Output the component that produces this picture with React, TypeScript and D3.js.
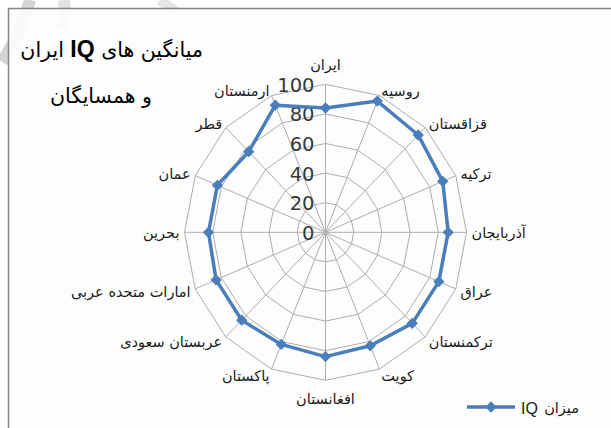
import React from "react";
import * as d3 from "d3";

const categories = [
  "ایران",
  "روسیه",
  "قزاقستان",
  "ترکیه",
  "آذربایجان",
  "عراق",
  "ترکمنستان",
  "کویت",
  "افغانستان",
  "پاکستان",
  "عربستان سعودی",
  "امارات متحده عربی",
  "بحرین",
  "عمان",
  "قطر",
  "ارمنستان",
];
const iqValues = [84, 96, 93, 90, 87, 87, 87, 83, 84, 82, 84, 84, 83, 83, 77, 93];
const tickValues = [0, 20, 40, 60, 80, 100];
const seriesWord = "میزان";
const seriesAbbr = "IQ";
const titleLine1 = ["میانگین های ", "IQ", " ایران"];
const titleLine2 = "و همسایگان";

const W = 611;
const H = 428;
const cx = 325.5;
const cy = 232.3;
const BLUE = "#4a7ebb";
const GRID = "#adadad";
const FA = "'DejaVu Sans', sans-serif";

export default function App() {
  const rx = d3.scaleLinear().domain([0, 100]).range([0, 141]);
  const ry = d3.scaleLinear().domain([0, 100]).range([0, 148]);
  const angle = d3
    .scaleLinear()
    .domain([0, categories.length])
    .range([0, 2 * Math.PI]);

  const px = (i: number, v: number) => cx + rx(v) * Math.sin(angle(i));
  const py = (i: number, v: number) => cy - ry(v) * Math.cos(angle(i));

  const ringPath = (v: number) =>
    d3
      .line<number>()
      .x((_, i) => px(i, v))
      .y((_, i) => py(i, v))
      .curve(d3.curveLinearClosed)(categories.map(() => v)) as string;

  const seriesPath = d3
    .line<number>()
    .x((d, i) => px(i, d))
    .y((d, i) => py(i, d))
    .curve(d3.curveLinearClosed)(iqValues) as string;

  const diamond = d3.symbol(d3.symbolSquare, 64)() as string;

  return (
    <svg
      width={W}
      height={H}
      style={{ position: "absolute", left: 0, top: 0, background: "#ffffff" }}
    >
      {/* faint watermark strokes */}
      <g fill="none" stroke="#d4d4d4" strokeLinecap="butt">
        <path d="M30,0 Q22,30 2,62" strokeWidth={12} />
        <path d="M64,0 Q66,14 62,28" strokeWidth={12} opacity={0.7} />
        <path d="M160,0 L176,12" strokeWidth={10} opacity={0.6} />
      </g>
      <rect
        x={8.5}
        y={8.5}
        width={W}
        height={H}
        fill="#fdfdfd"
        fillOpacity={0.9}
        stroke="#858585"
        strokeWidth={1.5}
      />

      {/* title */}
      <text
        x={203}
        y={57}
        direction="rtl"
        textAnchor="start"
        fontFamily={FA}
        fontSize={20.5}
        fill="#000"
      >
        <tspan>{titleLine1[0]}</tspan>
        <tspan fontWeight="bold" fontFamily="'Liberation Sans', Arial, sans-serif" fontSize={23}>
          {titleLine1[1]}
        </tspan>
        <tspan>{titleLine1[2]}</tspan>
      </text>
      <text
        x={152}
        y={103}
        direction="rtl"
        textAnchor="start"
        fontFamily={FA}
        fontSize={20.5}
        fill="#000"
      >
        {titleLine2}
      </text>

      {/* grid rings */}
      <g fill="none" stroke={GRID} strokeWidth={1}>
        {tickValues
          .filter((t) => t > 0)
          .map((t) => (
            <path key={t} d={ringPath(t)} />
          ))}
        {categories.map((c, i) => (
          <line key={c} x1={cx} y1={cy} x2={px(i, 100)} y2={py(i, 100)} />
        ))}
      </g>

      {/* tick labels */}
      <g fontFamily="'DejaVu Sans', sans-serif" fontSize={19.5} fill="#383838">
        {tickValues.map((t) => (
          <text
            key={t}
            x={cx - 11}
            y={cy - ry(t) + 1}
            textAnchor="end"
            dominantBaseline="central"
          >
            {t}
          </text>
        ))}
      </g>

      {/* category labels */}
      <g fontFamily={FA} fontSize={14.5} fill="#1a1a1a">
        {categories.map((c, i) => {
          const a = angle(i);
          const s = Math.sin(a);
          const co = Math.cos(a);
          const vx = px(i, 100);
          const vy = py(i, 100);
          let anchor: "start" | "end" | "middle" = "middle";
          if (s > 0.1) anchor = "start";
          else if (s < -0.1) anchor = "end";
          const lx = vx + 5 * s;
          let ly = vy - 6 * co + 1;
          if (Math.abs(s) < 0.1) ly = vy - 19 * co;
          return (
            <text
              key={c}
              x={lx}
              y={ly}
              textAnchor={anchor}
              dominantBaseline="central"
            >
              {c}
            </text>
          );
        })}
      </g>

      {/* series */}
      <path
        d={seriesPath}
        fill="none"
        stroke={BLUE}
        strokeWidth={3.5}
        strokeLinejoin="round"
      />
      {iqValues.map((v, i) => (
        <path
          key={i}
          d={diamond}
          transform={`translate(${px(i, v)},${py(i, v)}) rotate(45)`}
          fill={BLUE}
        />
      ))}

      {/* legend */}
      <line x1={467} x2={515} y1={407} y2={407} stroke={BLUE} strokeWidth={3.5} />
      <path d={diamond} transform="translate(491,407) rotate(45)" fill={BLUE} />
      <text
        x={521}
        y={408}
        textAnchor="start"
        dominantBaseline="central"
        fontFamily="'Liberation Sans', Arial, sans-serif"
        fontSize={16}
        fill="#1a1a1a"
      >
        {seriesAbbr}
      </text>
      <text
        x={579}
        y={408}
        textAnchor="end"
        dominantBaseline="central"
        fontFamily={FA}
        fontSize={14.5}
        fill="#1a1a1a"
      >
        {seriesWord}
      </text>
    </svg>
  );
}
